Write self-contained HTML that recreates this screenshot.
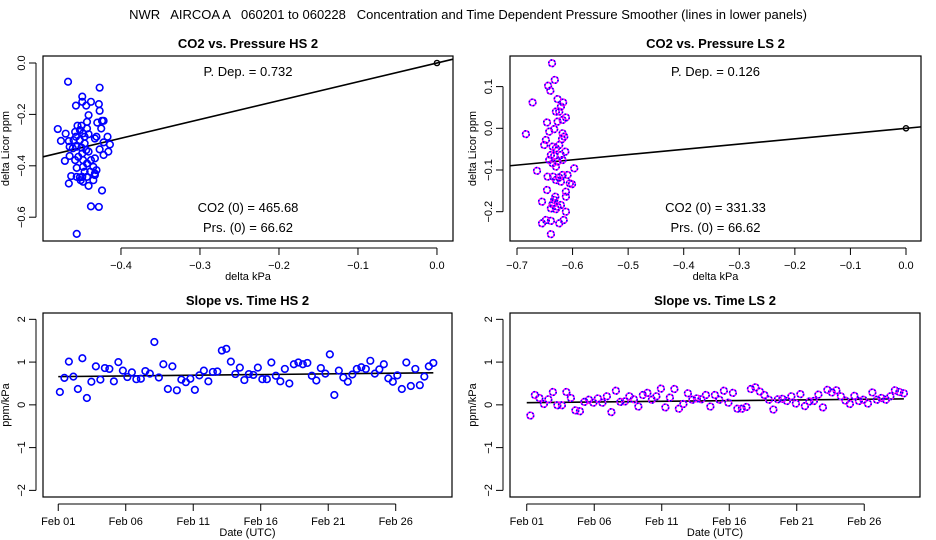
<!DOCTYPE html>
<html><head><meta charset="utf-8"><style>
html,body{margin:0;padding:0;background:#fff;}
svg{display:block;font-family:"Liberation Sans",sans-serif;}
#main-title{white-space:pre;}
</style></head><body>
<svg id="c" width="936" height="540" viewBox="0 0 936 540">
<text id="main-title" xml:space="preserve" x="468" y="19" text-anchor="middle" font-size="13">NWR   AIRCOA A   060201 to 060228   Concentration and Time Dependent Pressure Smoother (lines in lower panels)</text>
</svg>
<script>
// Panel 1 (HS pressure) data
const hsPx = [-0.467,-0.427,-0.449,-0.457,-0.444,-0.438,-0.449,-0.428,-0.427,-0.441,-0.443,-0.424,-0.430,-0.480,-0.470,-0.476,-0.466,-0.455,-0.450,-0.443,-0.425,-0.422,-0.458,-0.457,-0.452,-0.448,-0.446,-0.433,-0.431,-0.417,-0.422,-0.414,-0.416,-0.422,-0.427,-0.465,-0.461,-0.456,-0.449,-0.444,-0.441,-0.471,-0.465,-0.458,-0.456,-0.448,-0.443,-0.438,-0.433,-0.435,-0.446,-0.439,-0.431,-0.433,-0.449,-0.443,-0.452,-0.448,-0.451,-0.456,-0.463,-0.466,-0.433,-0.441,-0.424,-0.438,-0.428,-0.456,-0.460,-0.452,-0.446,-0.441,-0.450,-0.435,-0.448,-0.454];
const hsPy = [-0.073,-0.096,-0.131,-0.166,-0.166,-0.151,-0.151,-0.160,-0.186,-0.203,-0.229,-0.225,-0.232,-0.257,-0.275,-0.303,-0.304,-0.244,-0.244,-0.255,-0.255,-0.225,-0.268,-0.287,-0.300,-0.274,-0.313,-0.294,-0.287,-0.287,-0.309,-0.317,-0.345,-0.358,-0.336,-0.326,-0.332,-0.326,-0.352,-0.339,-0.345,-0.381,-0.362,-0.378,-0.408,-0.378,-0.391,-0.378,-0.371,-0.404,-0.423,-0.423,-0.417,-0.430,-0.443,-0.443,-0.445,-0.462,-0.456,-0.443,-0.440,-0.469,-0.436,-0.478,-0.496,-0.558,-0.560,-0.665,-0.300,-0.261,-0.287,-0.277,-0.329,-0.456,-0.404,-0.365];
const hsSlope = 0.732;
// Panel 2 (LS pressure) data
const lsPx = [-0.637,-0.632,-0.644,-0.640,-0.672,-0.684,-0.627,-0.617,-0.621,-0.624,-0.630,-0.612,-0.618,-0.627,-0.646,-0.642,-0.633,-0.648,-0.651,-0.618,-0.615,-0.619,-0.636,-0.630,-0.624,-0.613,-0.639,-0.633,-0.621,-0.642,-0.636,-0.627,-0.618,-0.630,-0.597,-0.664,-0.645,-0.635,-0.624,-0.618,-0.609,-0.605,-0.601,-0.630,-0.621,-0.646,-0.612,-0.612,-0.631,-0.633,-0.636,-0.621,-0.639,-0.630,-0.612,-0.655,-0.616,-0.648,-0.655,-0.639,-0.624,-0.639,-0.635,-0.627];
const lsPy = [0.156,0.116,0.102,0.090,0.062,-0.014,0.070,0.062,0.052,0.040,0.040,0.026,0.020,0.016,0.014,-0.008,-0.002,-0.028,-0.040,-0.012,-0.020,-0.026,-0.044,-0.048,-0.040,-0.056,-0.064,-0.066,-0.064,-0.076,-0.084,-0.080,-0.076,-0.092,-0.096,-0.102,-0.116,-0.116,-0.118,-0.112,-0.112,-0.132,-0.134,-0.124,-0.128,-0.148,-0.152,-0.164,-0.164,-0.172,-0.182,-0.184,-0.192,-0.194,-0.200,-0.176,-0.220,-0.220,-0.228,-0.222,-0.228,-0.254,-0.180,-0.188];
const lsSlope = 0.126;
// Panel 3 (HS slope vs time)
const hsStart = 0.12;
const hsSlopes = [0.30,0.63,1.01,0.66,0.37,1.09,0.16,0.54,0.90,0.59,0.86,0.84,0.55,1.00,0.80,0.65,0.76,0.60,0.61,0.79,0.73,1.47,0.64,0.95,0.37,0.90,0.34,0.59,0.53,0.61,0.35,0.69,0.80,0.55,0.77,0.78,1.27,1.31,1.01,0.72,0.87,0.58,0.72,0.70,0.87,0.60,0.60,0.99,0.68,0.55,0.84,0.50,0.95,0.99,0.95,0.98,0.68,0.57,0.86,0.73,1.18,0.23,0.80,0.64,0.54,0.71,0.84,0.88,0.84,1.03,0.73,0.83,0.95,0.62,0.54,0.69,0.37,0.99,0.44,0.84,0.46,0.66,0.90,0.98];
const hsTrend = [0.66,0.75];
// Panel 4 (LS slope vs time)
const lsStart = 0.27;
const lsSlopes = [-0.25,0.23,0.16,0.02,0.13,0.30,-0.01,-0.01,0.30,0.16,-0.13,-0.15,0.07,0.12,0.05,0.15,0.05,0.20,-0.17,0.33,0.07,0.08,0.20,0.13,-0.04,0.23,0.28,0.12,0.20,0.38,-0.06,0.17,0.37,-0.09,0.02,0.27,0.12,0.15,0.13,0.23,-0.04,0.23,0.12,0.33,0.05,0.28,-0.09,-0.09,-0.05,0.37,0.41,0.31,0.23,0.12,-0.11,0.13,0.14,0.09,0.20,0.03,0.25,-0.03,0.08,0.09,0.24,-0.06,0.35,0.29,0.34,0.20,0.10,0.02,0.21,0.09,0.12,0.03,0.29,0.12,0.16,0.12,0.20,0.34,0.30,0.27];
const lsTrend = [0.05,0.14];
const dateTicks = [0,5,10,15,20,25];
const dateLabels = ["Feb 01","Feb 06","Feb 11","Feb 16","Feb 21","Feb 26"];
const slopeTicks = [-2,-1,0,1,2];

const svg = document.getElementById('c');
const NS = 'http://www.w3.org/2000/svg';
function mk(tag, attrs, parent){
  const e = document.createElementNS(NS, tag);
  for (const k in attrs) e.setAttribute(k, attrs[k]);
  (parent||svg).appendChild(e);
  return e;
}
function scale(d0,d1,r0,r1){ return v => r0 + (v-d0)/(d1-d0)*(r1-r0); }

function panel(o){
  const g = mk('g', {});
  
  
  const X = scale(o.xd[0],o.xd[1],o.L,o.R), Y = scale(o.yd[0],o.yd[1],o.B,o.T);
  const box = mk('rect',{x:o.L,y:o.T,width:o.R-o.L,height:o.B-o.T,fill:'none',stroke:'#000','stroke-width':1.2},g);
  
  
  const t = mk('text',{x:(o.L+o.R)/2,y:o.T-8,'text-anchor':'middle','font-size':13,'font-weight':'bold'},g);
  t.textContent = o.title;
  
  
  const xa = mk('g',{},g);
  
  
  const xp0 = X(o.xt[0]), xp1 = X(o.xt[o.xt.length-1]);
  mk('line',{x1:xp0,x2:xp1,y1:o.B+7,y2:o.B+7,stroke:'#000'},xa);
  o.xt.forEach((v,i)=>{
    const px = X(v);
    mk('line',{x1:px,x2:px,y1:o.B+7,y2:o.B+14,stroke:'#000'},xa);
    const tl = mk('text',{x:px,y:o.B+28,'text-anchor':'middle','font-size':11},xa);
    tl.textContent = o.xl[i];
    
    
  });
  const xt = mk('text',{x:(o.L+o.R)/2,y:o.B+39,'text-anchor':'middle','font-size':11},g);
  xt.textContent = o.xtitle;
  
  
  const ya = mk('g',{},g);
  
  
  mk('line',{x1:o.L-7,x2:o.L-7,y1:Y(o.yt[0]),y2:Y(o.yt[o.yt.length-1]),stroke:'#000'},ya);
  o.yt.forEach((v,i)=>{
    const py = Y(v);
    mk('line',{x1:o.L-14,x2:o.L-7,y1:py,y2:py,stroke:'#000'},ya);
    const tl = mk('text',{x:0,y:0,'text-anchor':'middle','font-size':11,transform:`translate(${o.L-18},${py}) rotate(-90)`},ya);
    tl.textContent = o.yl[i];
    
    
  });
  const yt = mk('text',{x:0,y:0,'text-anchor':'middle','font-size':11,transform:`translate(${o.L-34},${(o.T+o.B)/2}) rotate(-90)`},g);
  yt.textContent = o.ytitle;
  
  
  const ln = mk('line',{x1:X(o.line[0][0]),y1:Y(o.line[0][1]),x2:X(o.line[1][0]),y2:Y(o.line[1][1]),stroke:'#000','stroke-width':1.6},g);
  
  
  const pts = mk('g',{},g);
  
  
  o.px.forEach((xv,i)=>{
    const cx = X(xv), cy = Y(o.py[i]);
    const c = mk('circle',{cx:cx,cy:cy,r:3.3,fill:'none',stroke:o.col,'stroke-width':1.6},pts);
    
    
    if (o.col2) mk('circle',{cx:cx,cy:cy,r:3.3,fill:'none',stroke:o.col2,'stroke-width':1.6,'stroke-dasharray':'1.5 2'},pts);
  });
  if (o.origin){
    const oc = mk('circle',{cx:X(0),cy:Y(0),r:2.6,fill:'none',stroke:'#000','stroke-width':1.4},g);
    
    
  }
  (o.notes||[]).forEach(n=>{
    const nt = mk('text',{x:(o.L+o.R)/2,y:n[1],'text-anchor':'middle','font-size':13},g);
    nt.textContent = n[0];
    
    
  });
}

panel({name:'panel-co2-pressure-hs',title:'CO2 vs. Pressure HS 2',L:43,R:453,T:56,B:241,
  xd:[-0.4987,0.0203],yd:[-0.6926,0.0272],
  xt:[-0.4,-0.3,-0.2,-0.1,0],xl:['\u22120.4','\u22120.3','\u22120.2','\u22120.1','0.0'],
  yt:[-0.6,-0.4,-0.2,0],yl:['\u22120.6','\u22120.4','\u22120.2','0.0'],
  xtitle:'delta kPa',ytitle:'delta Licor ppm',
  line:[[-0.4987,-0.4987*hsSlope],[0.0203,0.0203*hsSlope]],
  px:hsPx,py:hsPy,col:'#0000ff',origin:true,
  notes:[['P. Dep. =  0.732',76],['CO2 (0) =  465.68',212],['Prs. (0) =  66.62',232]]});

panel({name:'panel-co2-pressure-ls',title:'CO2 vs. Pressure LS 2',L:510,R:921,T:56,B:241,
  xd:[-0.7126,0.027],yd:[-0.2703,0.1734],
  xt:[-0.7,-0.6,-0.5,-0.4,-0.3,-0.2,-0.1,0],xl:['\u22120.7','\u22120.6','\u22120.5','\u22120.4','\u22120.3','\u22120.2','\u22120.1','0.0'],
  yt:[-0.2,-0.1,0,0.1],yl:['\u22120.2','\u22120.1','0.0','0.1'],
  xtitle:'delta kPa',ytitle:'delta Licor ppm',
  line:[[-0.7126,-0.7126*lsSlope],[0.027,0.027*lsSlope]],
  px:lsPx,py:lsPy,col:'#ff00ff',col2:'#0000ff',origin:true,
  notes:[['P. Dep. =  0.126',76],['CO2 (0) =  331.33',212],['Prs. (0) =  66.62',232]]});

panel({name:'panel-slope-time-hs',title:'Slope vs. Time HS 2',L:43,R:452,T:313,B:497,
  xd:[-1.13,29.17],yd:[-2.155,2.148],
  xt:dateTicks,xl:dateLabels,yt:slopeTicks,yl:['\u22122','\u22121','0','1','2'],
  xtitle:'Date (UTC)',ytitle:'ppm/kPa',
  line:[[0,hsTrend[0]],[hsStart+(hsSlopes.length-1)/3,hsTrend[1]]],
  px:hsSlopes.map((v,i)=>hsStart+i/3),py:hsSlopes,col:'#0000ff'});

panel({name:'panel-slope-time-ls',title:'Slope vs. Time LS 2',L:510,R:920,T:313,B:497,
  xd:[-1.24,29.13],yd:[-2.155,2.148],
  xt:dateTicks,xl:dateLabels,yt:slopeTicks,yl:['\u22122','\u22121','0','1','2'],
  xtitle:'Date (UTC)',ytitle:'ppm/kPa',
  line:[[0,lsTrend[0]],[lsStart+(lsSlopes.length-1)/3,lsTrend[1]]],
  px:lsSlopes.map((v,i)=>lsStart+i/3),py:lsSlopes,col:'#ff00ff',col2:'#0000ff'});
</script>
</body></html>
